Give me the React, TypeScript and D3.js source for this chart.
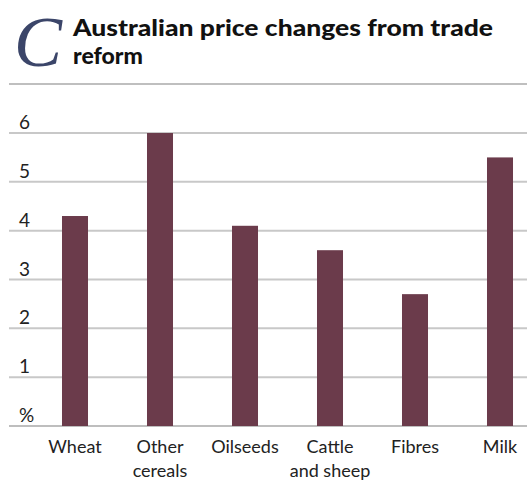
import React from 'react'
import { scaleBand, scaleLinear } from 'd3'

// values (% price change)
const categories = ['Wheat', 'Other cereals', 'Oilseeds', 'Cattle and sheep', 'Fibres', 'Milk']
const labelLines = [['Wheat'], ['Other', 'cereals'], ['Oilseeds'], ['Cattle', 'and sheep'], ['Fibres'], ['Milk']]
const values = [4.3, 6.0, 4.1, 3.6, 2.7, 5.5]
const yTicks = [0, 1, 2, 3, 4, 5, 6]
const tickLabels = ['%', '1', '2', '3', '4', '5', '6']
const titleLines = ['Australian price changes from trade', 'reform']

const W = 527
const H = 482
const font = 'Lato, "Open Sans", sans-serif'

const App = () => {
  const x = scaleBand<string>()
    .domain(categories)
    .range([32.5, 542.5])
    .paddingInner(0.694)
    .paddingOuter(0.347)

  const y = scaleLinear().domain([0, 6]).range([426, 133])

  return (
    <svg width={W} height={H} style={{ position: 'absolute', left: 0, top: 0 }}>
      <rect width={W} height={H} fill="#fff" />

      {/* header */}
      <text x={14} y={66} fontFamily='"Liberation Serif", serif' fontStyle="italic"
        fontSize={72} fill="#3b4569">C</text>
      <text x={73} y={36} textLength={420} lengthAdjust="spacingAndGlyphs"
        fontFamily={font} fontWeight={900} fontSize={23} fill="#111">{titleLines[0]}</text>
      <text x={73} y={64} fontFamily={font} fontWeight={900} fontSize={23} fill="#111">{titleLines[1]}</text>
      <line x1={9} x2={W} y1={84} y2={84} stroke="#aaa" strokeWidth={1.5} />

      {/* gridlines + tick labels */}
      {yTicks.map((t, i) => (
        <g key={t}>
          <line x1={9} x2={W} y1={y(t)} y2={y(t)}
            stroke={t === 0 ? '#a8a8a8' : '#c8c8c8'} strokeWidth={t === 0 ? 1.5 : 2} />
          <text x={19} y={y(t) - 4} fontFamily={font} fontSize={19} fill="#222">{tickLabels[i]}</text>
        </g>
      ))}

      {/* bars */}
      {categories.map((c, i) => (
        <rect key={c} x={x(c)} width={x.bandwidth()} y={y(values[i])}
          height={y(0) - y(values[i])} fill="#6b3b4b" />
      ))}

      {/* category labels */}
      {categories.map((c, i) => (
        <text key={c} textAnchor="middle" fontFamily={font} fontSize={18} fill="#222">
          {labelLines[i].map((l, j) => (
            <tspan key={j} x={(x(c) ?? 0) + x.bandwidth() / 2} y={453 + j * 24}>{l}</tspan>
          ))}
        </text>
      ))}
    </svg>
  )
}

export default App
